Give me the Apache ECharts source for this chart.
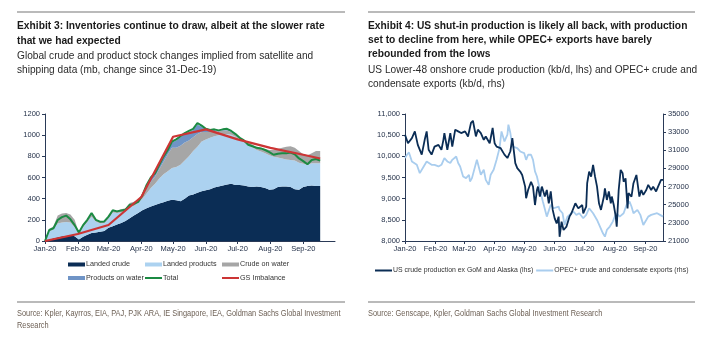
<!DOCTYPE html>
<html><head><meta charset="utf-8">
<script src="https://cdn.jsdelivr.net/npm/echarts@6/dist/echarts.min.js"></script>
<style>html,body{margin:0;padding:0;background:#fff}#c{width:717px;height:337px}</style>
</head><body><div id="c"></div>
<script>
// ---------- Exhibit 3 data (mb, change since 31-Dec-19); x = days after 1-Jan-2020 ----------
const invDays = [0,4,8,12,16,20,24,28,32,36,40,44,48,52,56,60,64,68,72,76,80,84,88,92,96,100,104,108,112,116,120,124,128,132,136,140,144,148,152,156,160,164,168,172,176,180,184,188,192,196,200,204,208,212,216,220,224,228,232,236,240,244,248,252,256,260];
const landedCrude = [0,15,25,35,45,50,55,45,15,40,60,75,80,88,95,125,140,155,170,190,215,240,265,290,310,325,340,355,365,380,390,385,375,400,430,440,455,470,480,490,505,515,525,535,540,530,530,525,515,510,515,510,500,485,490,510,515,515,510,490,485,510,520,525,520,520];
const landedProducts = [0,75,85,130,130,130,120,85,50,90,120,155,105,77,75,85,130,110,100,85,105,90,95,110,140,175,200,235,265,280,300,315,345,360,370,410,435,470,480,485,485,485,480,475,465,455,430,410,390,375,345,335,330,325,305,280,265,255,255,270,255,220,200,210,215,215];
const crudeOnWater = [0,20,30,75,85,85,75,70,15,15,15,20,15,15,15,15,15,20,30,35,40,40,30,20,50,60,70,90,120,160,190,180,180,170,150,130,120,90,70,55,50,35,40,35,25,20,20,20,25,25,30,35,40,50,65,80,100,120,130,120,110,90,90,95,115,115];
const productsOnWater = [0,0,0,0,0,0,0,0,0,0,0,0,0,0,0,0,0,0,0,0,0,0,0,5,25,30,25,30,40,35,50,70,80,80,80,70,90,50,25,15,10,5,5,10,5,0,0,0,0,0,0,0,0,0,0,0,0,0,0,0,0,0,0,0,0,0];
const total = [0,104,120,198,225,240,205,150,80,150,200,265,200,183,185,230,290,280,288,295,340,350,370,430,530,600,640,720,797,860,940,960,990,1020,1040,1060,1115,1090,1060,1050,1055,1045,1055,1060,1040,1010,975,950,910,895,880,875,860,840,815,825,830,828,835,820,780,755,725,765,775,760];
const gsDays = [0,31,60,91,121,152,182,213,244,260];
const gsImbalance = [0,66,151,416,985,1055,960,880,815,780];
const invTicks = {min:0, max:1200, interval:200};

// ---------- Exhibit 4 data (kb/d) ----------
const usDays = [0,3,7,10,13,17,20,22,24,27,30,34,37,39,40,43,46,48,51,54,57,61,64,67,69,72,74,77,80,82,86,89,91,93,95,97,101,104,107,109,112,114,117,119,122,123,125,128,130,132,134,135,137,139,142,144,146,148,150,152,154,156,157,159,161,164,167,169,173,176,180,181,184,185,187,189,191,193,195,197,199,202,203,205,207,209,210,212,214,215,217,219,221,222,224,226,227,230,232,235,236,238,240,242,245,247,250,252,255,257,260,262];
const usProd = [10510,10310,10430,10590,10270,10040,10390,10590,10155,10040,10230,10270,10155,10390,10550,10155,10550,10230,10630,10590,10550,10590,10470,10790,10840,10470,10630,10550,10390,10470,10310,10670,10310,10230,10270,10195,10040,9960,10120,10430,9840,9720,9640,9560,9285,9010,9205,9400,9285,8850,9205,9285,9050,9285,9050,9205,8890,9170,8735,8535,8415,8575,8100,8455,8260,8340,8575,8655,8890,8770,8850,8655,8810,9365,9640,9520,9800,9520,9285,8890,8735,9050,9245,8970,9170,8890,9050,8850,8575,8340,9205,9680,9600,9400,9480,8770,9130,9050,9365,9560,9520,9050,9205,9090,9205,9325,9205,9285,9170,9285,9444,9444];
const opecDays = [0,2,4,7,9,12,15,16,19,22,24,27,30,34,37,40,43,46,48,52,54,56,59,62,65,66,68,70,73,75,77,80,82,85,87,90,93,96,98,101,104,105,107,109,111,114,117,119,121,123,125,127,128,130,132,134,137,140,144,146,148,151,153,156,157,160,162,165,167,171,174,177,181,184,187,191,195,198,201,203,205,208,211,213,215,218,222,225,228,230,232,234,236,239,242,245,247,250,252,256,259,262];
const opecExp = [30140,30510,30760,29770,29770,29400,28480,28300,29220,29770,29950,29400,29400,29220,29400,30140,29770,29590,29950,30320,29590,29220,28110,27930,28300,27560,27930,27740,29950,29770,28300,28850,27740,27190,28300,28850,29950,31240,33080,31980,32720,33820,32900,31430,31610,31240,30870,30870,30690,29950,30510,30690,30510,29950,28670,28110,26640,25350,23690,23880,24980,24610,24610,24800,24430,24060,22770,23690,23880,24250,23880,24060,23510,23880,24610,24060,23320,22590,21850,21480,22220,22590,23140,23690,24060,23690,24060,24980,25350,24800,24060,23880,24430,23880,22770,23320,23690,23880,24060,24060,23880,23690];
const lhsTicks = {min:8000, max:11000, interval:500};
const rhsTicks = {min:21000, max:35000, interval:2000};

// ---------- texts ----------
const titleL = ['Exhibit 3: Inventories continue to draw, albeit at the slower rate', 'that we had expected'];
const subL = ['Global crude and product stock changes implied from satellite and', 'shipping data (mb, change since 31-Dec-19)'];
const titleR = ['Exhibit 4: US shut-in production is likely all back, with production', 'set to decline from here, while OPEC+ exports have barely', 'rebounded from the lows'];
const subR = ['US Lower-48 onshore crude production (kb/d, lhs) and OPEC+ crude and', 'condensate exports (kb/d, rhs)'];
const srcL = ['Source: Kpler, Kayrros, EIA, PAJ, PJK ARA, IE Singapore, IEA, Goldman Sachs Global Investment', 'Research'];
const srcR = ['Source: Genscape, Kpler, Goldman Sachs Global Investment Research'];

const day = d => new Date(2020, 0, 1 + d).getTime();
const zip = (xs, ys) => xs.map((x, i) => [day(x), ys[i]]);

const SANS = "'Liberation Sans',Arial,sans-serif";
const C = {navy:'#0b2d55', lblue:'#acd2f0', gray:'#a6a6a6', steel:'#6f94c6', green:'#1b8a43', red:'#cc3535', axis:'#2a3a57', lab:'#25324a'};

// condensed-font emulation: horizontal scale so that text widths match the reference
const ctx = document.createElement('canvas').getContext('2d');
function measure(font, s){ ctx.font = font; return ctx.measureText(s).width; }
const F_BOLD = 'bold 11px ' + SANS, F_REG = '11px ' + SANS, F_SRC = '9.5px ' + SANS;
const sBold = (309 / measure(F_BOLD, titleL[0]) + 318 / measure(F_BOLD, titleR[0])) / 2;
const sReg = (300 / measure(F_REG, subL[0]) + 325 / measure(F_REG, subR[0])) / 2;
const sSrc = (324 / measure(F_SRC, srcL[0]) + 234 / measure(F_SRC, srcR[0])) / 2;

const chart = echarts.init(document.getElementById('c'), null, {renderer:'canvas'});

function xAx(grid, maxD){
  return {type:'time', gridIndex:grid, min:day(0), max:day(maxD), splitNumber:9,
    minInterval:28*864e5, maxInterval:31*864e5,
    axisLine:{show:true, lineStyle:{color:C.axis, width:1}},
    axisTick:{show:true, length:3, lineStyle:{color:C.axis}},
    splitLine:{show:false},
    axisLabel:{formatter:'{MMM}-{yy}', fontFamily:SANS, fontSize:7.5, color:C.lab, margin:4, showMinLabel:true, showMaxLabel:false, hideOverlap:false}};
}
function yAx(grid, t, pos, fmt){
  return {type:'value', gridIndex:grid, position:pos, min:t.min, max:t.max, interval:t.interval,
    axisLine:{show:true, lineStyle:{color:C.axis, width:1}},
    axisTick:{show:true, length:3, lineStyle:{color:C.axis}},
    splitLine:{show:false},
    axisLabel:{fontFamily:SANS, fontSize:7.5, color:C.lab, margin:5, formatter:fmt}};
}
function area(name, data, color){
  return {name, type:'line', xAxisIndex:0, yAxisIndex:0, stack:'inv', symbol:'none',
    lineStyle:{width:0}, areaStyle:{color, opacity:1}, itemStyle:{color}, data:zip(invDays, data)};
}
const LEGTXT = {fontFamily:SANS, fontSize:7.2, color:'#333', padding:[0,0,0,-4]};
function leg(name, left, top, h){
  return {data:[name], left, top, padding:0, itemWidth:17, itemHeight:h, icon:'rect', selectedMode:false, textStyle:LEGTXT};
}
function lines(x, y0, step, arr, font, scale, color){
  return arr.map((s, i) => ({type:'text', x, y:y0 + i*step, scaleX:scale,
    style:{text:s, font, fill:color, textVerticalAlign:'middle'}}));
}
function rule(x1, x2, y){
  return {type:'line', shape:{x1, y1:y, x2, y2:y}, style:{stroke:'#a3a3a3', lineWidth:1.5}};
}

chart.setOption({
  animation:false,
  grid:[{left:45, top:114, width:290, height:127}, {left:405, top:114, width:258, height:127}],
  xAxis:[xAx(0, 274), xAx(1, 262)],
  yAxis:[yAx(0, invTicks, 'left', v => String(v)), yAx(1, lhsTicks, 'left', v => v.toLocaleString('en-US')), yAx(1, rhsTicks, 'right', v => String(v))],
  legend:[
    leg('Landed crude', 68, 261, 4),
    leg('Landed products', 145, 261, 4),
    leg('Crude on water', 222, 261, 4),
    leg('Products on water', 68, 274.5, 4),
    leg('Total', 145, 274.5, 2),
    leg('GS Imbalance', 222, 274.5, 2),
    {data:['US crude production ex GoM and Alaska (lhs)','OPEC+ crude and condensate exports (rhs)'], left:375, top:267, padding:0, itemGap:3,
      itemWidth:17, itemHeight:2, icon:'rect', selectedMode:false, textStyle:Object.assign({}, LEGTXT, {fontSize:6.9})}
  ],
  series:[
    area('Landed crude', landedCrude, C.navy),
    area('Landed products', landedProducts, C.lblue),
    area('Crude on water', crudeOnWater, C.gray),
    area('Products on water', productsOnWater, C.steel),
    {name:'Total', type:'line', xAxisIndex:0, yAxisIndex:0, symbol:'none', lineStyle:{width:2, color:C.green}, itemStyle:{color:C.green}, data:zip(invDays, total)},
    {name:'GS Imbalance', type:'line', xAxisIndex:0, yAxisIndex:0, symbol:'none', lineStyle:{width:2.2, color:C.red}, itemStyle:{color:C.red}, data:zip(gsDays, gsImbalance)},
    {name:'OPEC+ crude and condensate exports (rhs)', type:'line', xAxisIndex:1, yAxisIndex:2, symbol:'none', lineStyle:{width:1.8, color:'#a9cdee'}, itemStyle:{color:'#a9cdee'}, data:zip(opecDays, opecExp)},
    {name:'US crude production ex GoM and Alaska (lhs)', type:'line', xAxisIndex:1, yAxisIndex:1, symbol:'none', lineStyle:{width:1.8, color:C.navy}, itemStyle:{color:C.navy}, data:zip(usDays, usProd)}
  ],
  graphic:[
    rule(17, 345, 12), rule(368, 695, 12), rule(17, 345, 302), rule(368, 695, 302)
  ].concat(
    lines(17, 26, 14.8, titleL, F_BOLD, sBold, '#1a1a1a'),
    lines(17, 55.5, 14.8, subL, F_REG, sReg, '#2a2a2a'),
    lines(368, 26, 14.2, titleR, F_BOLD, sBold, '#1a1a1a'),
    lines(368, 69.5, 14, subR, F_REG, sReg, '#2a2a2a'),
    lines(17, 313, 12.5, srcL, F_SRC, sSrc, '#6e6156'),
    lines(368, 313, 12.5, srcR, F_SRC, sSrc, '#6e6156')
  )
});
</script></body></html>
